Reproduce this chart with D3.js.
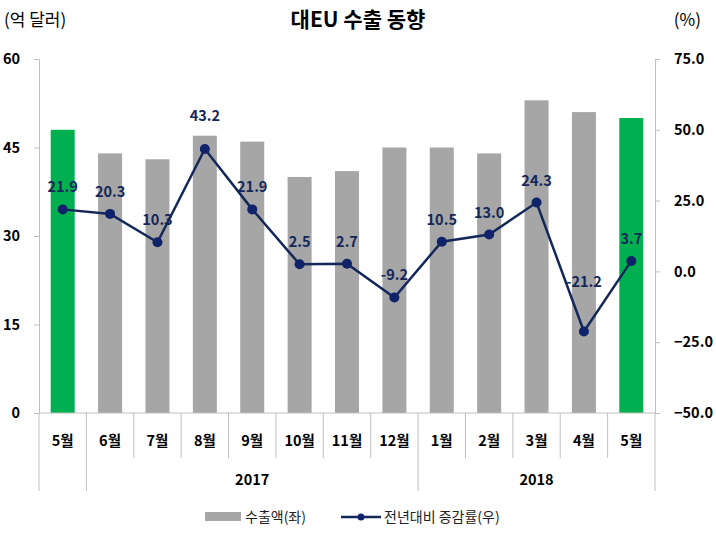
<!DOCTYPE html>
<html>
<head>
    <meta charset="utf-8">
    <script src="https://d3js.org/d3.v7.min.js"></script>
    <style>
        body, html { margin: 0; background: #fff; }
        svg text { font-family: "Noto Sans CJK KR", "Noto Sans", sans-serif; }
    </style>
</head>
<body>
<div id="chart"></div>
<script>
    // data
    const months = ["5월", "6월", "7월", "8월", "9월", "10월", "11월", "12월", "1월", "2월", "3월", "4월", "5월"];
    const exportValues = [48, 44, 43, 47, 46, 40, 41, 45, 45, 44, 53, 51, 50];
    const growth = [21.9, 20.3, 10.3, 43.2, 21.9, 2.5, 2.7, -9.2, 10.5, 13.0, 24.3, -21.2, 3.7];
    const highlight = [true, false, false, false, false, false, false, false, false, false, false, false, true];
    const years = [{label: "2017", from: 1, to: 8}, {label: "2018", from: 8, to: 13}];
    const leftTicks = [0, 15, 30, 45, 60];
    const rightTicks = [-50, -25, 0, 25, 50, 75];

    const width = 716, height = 537;
    const plotLeft = 39, plotRight = 655, plotTop = 59, plotBottom = 413;

    const svg = d3.select("#chart").append("svg")
        .attr("width", width).attr("height", height);

    const x = d3.scaleBand().domain(d3.range(months.length)).range([plotLeft, plotRight]);
    const yL = d3.scaleLinear().domain([0, 60]).range([plotBottom, plotTop]);
    const yR = d3.scaleLinear().domain([-50, 75]).range([plotBottom, plotTop]);

    const axisColor = "#bfbfbf";
    const navy = "#14275a";

    // bars
    svg.selectAll(".bar").data(exportValues).join("rect")
        .attr("x", (d, i) => x(i) + x.bandwidth() / 2 - 12)
        .attr("width", 24)
        .attr("y", d => yL(d))
        .attr("height", d => plotBottom - yL(d))
        .attr("fill", (d, i) => highlight[i] ? "#00b050" : "#a6a6a6");

    // left axis
    const gl = svg.append("g").attr("transform", `translate(${plotLeft},0)`)
        .call(d3.axisLeft(yL).tickValues(leftTicks).tickSize(5).tickPadding(14));
    gl.select(".domain").attr("stroke", axisColor);
    gl.selectAll(".tick line").attr("stroke", axisColor);
    gl.selectAll(".tick text").attr("font-size", 14.5).attr("font-weight", "bold").attr("fill", "#000");

    // right axis
    const gr = svg.append("g").attr("transform", `translate(${plotRight},0)`)
        .call(d3.axisRight(yR).tickValues(rightTicks).tickSize(5).tickPadding(14).tickFormat(d3.format(".1f")));
    gr.select(".domain").attr("stroke", axisColor);
    gr.selectAll(".tick line").attr("stroke", axisColor);
    gr.selectAll(".tick text").attr("font-size", 14.5).attr("font-weight", "bold").attr("fill", "#000");

    // bottom axis line + category separators
    svg.append("line").attr("x1", plotLeft).attr("x2", plotRight).attr("y1", plotBottom).attr("y2", plotBottom)
        .attr("stroke", axisColor);
    const bounds = d3.range(months.length + 1);
    const longBounds = [0, 1, 8, 13];
    svg.selectAll(".sep").data(bounds).join("line")
        .attr("x1", i => plotLeft + i * x.bandwidth())
        .attr("x2", i => plotLeft + i * x.bandwidth())
        .attr("y1", plotBottom)
        .attr("y2", i => longBounds.includes(i) ? 491 : 458)
        .attr("stroke", axisColor);

    svg.selectAll(".month").data(months).join("text")
        .attr("x", (d, i) => x(i) + x.bandwidth() / 2)
        .attr("y", 446)
        .attr("text-anchor", "middle")
        .attr("font-size", 14.5).attr("font-weight", "bold")
        .text(d => d);

    svg.selectAll(".year").data(years).join("text")
        .attr("x", d => plotLeft + (d.from + d.to) / 2 * x.bandwidth())
        .attr("y", 485)
        .attr("text-anchor", "middle")
        .attr("font-size", 14.5).attr("font-weight", "bold")
        .text(d => d.label);

    // line
    const line = d3.line().x((d, i) => x(i) + x.bandwidth() / 2).y(d => yR(d));
    svg.append("path").datum(growth)
        .attr("d", line).attr("fill", "none")
        .attr("stroke", navy).attr("stroke-width", 2.5);
    svg.selectAll(".pt").data(growth).join("circle")
        .attr("cx", (d, i) => x(i) + x.bandwidth() / 2)
        .attr("cy", d => yR(d))
        .attr("r", 5)
        .attr("fill", "#10226a");

    // value labels (a couple are nudged up like in the original)
    const bump = {3: -11, 11: -27};
    svg.selectAll(".lbl").data(growth).join("text")
        .attr("x", (d, i) => x(i) + x.bandwidth() / 2)
        .attr("y", (d, i) => yR(d) - 17 + (bump[i] || 0))
        .attr("text-anchor", "middle")
        .attr("font-size", 14.5).attr("font-weight", "bold")
        .attr("fill", navy)
        .text(d => d.toFixed(1));

    // title + unit labels
    svg.append("text").attr("x", 358).attr("y", 27).attr("text-anchor", "middle")
        .attr("font-size", 21).attr("font-weight", "bold").text("대EU 수출 동향");
    svg.append("text").attr("x", 4).attr("y", 26)
        .attr("font-size", 17).text("(억 달러)");
    svg.append("text").attr("x", 701).attr("y", 26).attr("text-anchor", "end")
        .attr("font-size", 17).text("(%)");

    // legend
    const lg = svg.append("g");
    lg.append("rect").attr("x", 205).attr("y", 512).attr("width", 36).attr("height", 9).attr("fill", "#a6a6a6");
    lg.append("text").attr("x", 245).attr("y", 522).attr("font-size", 14).attr("fill", "#222").text("수출액(좌)");
    lg.append("line").attr("x1", 341).attr("x2", 381).attr("y1", 517).attr("y2", 517)
        .attr("stroke", navy).attr("stroke-width", 2.5);
    lg.append("circle").attr("cx", 361).attr("cy", 517).attr("r", 3.5).attr("fill", "#10226a");
    lg.append("text").attr("x", 384).attr("y", 522).attr("font-size", 14).attr("fill", "#222").text("전년대비 증감률(우)");
</script>
</body>
</html>
